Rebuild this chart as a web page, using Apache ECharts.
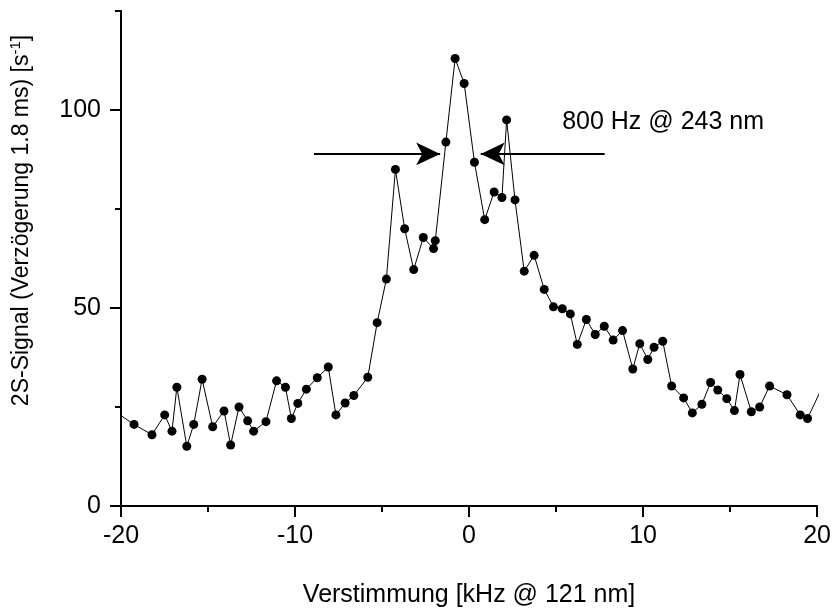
<!DOCTYPE html>
<html>
<head>
<meta charset="utf-8">
<script src="https://cdn.jsdelivr.net/npm/echarts@6/dist/echarts.min.js"></script>
<style>
  html, body { margin: 0; padding: 0; background: #fff; }
  #chart { width: 834px; height: 613px; }
</style>
</head>
<body>
<div id="chart"></div>
<script>
// Detuning (kHz @ 121 nm) of each scan point
const detuning = [
  -20.6, -19.25, -18.22, -17.49, -17.07, -16.79, -16.22, -15.82, -15.34, -14.73,
  -14.08, -13.70, -13.22, -12.72, -12.38, -11.67, -11.06, -10.55, -10.21, -9.84,
  -9.35, -8.72, -8.09, -7.65, -7.12, -6.62, -5.82, -5.28, -4.75, -4.23,
  -3.70, -3.18, -2.63, -2.04, -1.94, -1.33, -0.80, -0.28, 0.31, 0.90,
  1.44, 1.89, 2.16, 2.64, 3.17, 3.74, 4.32, 4.85, 5.36, 5.82,
  6.22, 6.74, 7.25, 7.77, 8.28, 8.82, 9.41, 9.81, 10.27, 10.63,
  11.13, 11.64, 12.33, 12.83, 13.38, 13.88, 14.29, 14.81, 15.25, 15.57,
  16.22, 16.70, 17.27, 18.27, 19.03, 19.45, 20.5
];
// 2S count rate (s^-1) at 1.8 ms delay
const signal = [
  24.6, 20.6, 18.0, 23.0, 18.9, 30.0, 15.1, 20.6, 32.0, 20.0,
  24.0, 15.4, 25.0, 21.5, 18.9, 21.3, 31.6, 30.0, 22.1, 25.9,
  29.5, 32.4, 35.1, 23.0, 26.0, 27.9, 32.5, 46.3, 57.3, 85.0,
  70.0, 59.7, 67.8, 65.0, 67.0, 91.9, 113.0, 106.7, 86.8, 72.3,
  79.3, 77.9, 97.5, 77.3, 59.3, 63.3, 54.7, 50.3, 49.8, 48.5,
  40.8, 47.1, 43.3, 45.4, 41.9, 44.3, 34.6, 41.0, 37.0, 40.1,
  41.6, 30.3, 27.3, 23.5, 25.7, 31.2, 29.3, 27.1, 24.1, 33.2,
  23.8, 25.0, 30.3, 28.1, 23.0, 22.1, 31.9
];

// Labelled (long) ticks on the signal axis; the rest are short
const yMajorTicks = [0, 50, 100];

// Linewidth arrows (tail, tip) and annotation
const arrowY = 88.9;
const leftArrow = [-8.91, -1.66];
const rightArrow = [7.79, 0.67];
const widthLabel = '800 Hz @ 243 nm';
const widthLabelPos = [5.35, 96.9];

const FONT = '"Liberation Sans", Arial, sans-serif';
const chart = echarts.init(document.getElementById('chart'));

const arrowLine = (from, to) => [
  { coord: [from, arrowY], symbol: 'none' },
  { coord: [to, arrowY], symbol: 'arrow' }
];

const blackTick = (len) => ({ show: true, length: len, lineStyle: { color: '#000', width: 2 } });

chart.setOption({
  animation: false,
  backgroundColor: '#fff',
  grid: { left: 121, right: 14, top: 11, bottom: 102 },
  xAxis: {
    type: 'value',
    min: -20, max: 20, interval: 10,
    name: 'Verstimmung [kHz @ 121 nm]',
    nameLocation: 'middle',
    nameGap: 77,
    nameTextStyle: { fontFamily: FONT, fontSize: 25, color: '#000' },
    axisLine: { show: true, onZero: false, lineStyle: { color: '#000', width: 2 } },
    axisTick: blackTick(11),
    minorTick: Object.assign(blackTick(6), { splitNumber: 2 }),
    axisLabel: { fontFamily: FONT, fontSize: 25, color: '#000', margin: 18 },
    splitLine: { show: false }
  },
  yAxis: [
    {
      type: 'value',
      min: 0, max: 125, interval: 25,
      position: 'left',
      name: '{t|2S-Signal (Verzögerung 1.8 ms) [s}{sup|-1}{t|]}',
      nameLocation: 'middle',
      nameGap: 85,
      nameRotate: 90,
      nameTextStyle: {
        fontFamily: FONT, fontSize: 23, color: '#000',
        padding: [0, 0, 0, 76],
        rich: {
          t: { fontFamily: FONT, fontSize: 23, color: '#000', lineHeight: 28 },
          sup: { fontFamily: FONT, fontSize: 15, color: '#000', verticalAlign: 'top', lineHeight: 28 }
        }
      },
      axisLine: { show: true, onZero: false, lineStyle: { color: '#000', width: 2 } },
      axisTick: blackTick(6),
      axisLabel: {
        fontFamily: FONT, fontSize: 25, color: '#000', margin: 20,
        formatter: (v) => (yMajorTicks.indexOf(v) >= 0 ? String(v) : '')
      },
      splitLine: { show: false }
    },
    {
      type: 'value',
      min: 0, max: 125, interval: 25,
      position: 'left',
      axisLine: { show: false, onZero: false },
      axisTick: Object.assign(blackTick(11), { customValues: yMajorTicks }),
      axisLabel: { show: false },
      splitLine: { show: false }
    }
  ],
  series: [
    {
      type: 'line',
      data: detuning.map((x, i) => [x, signal[i]]),
      clip: true,
      symbol: 'circle',
      symbolSize: 9,
      showAllSymbol: true,
      itemStyle: { color: '#000' },
      lineStyle: { color: '#000', width: 1 },
      markLine: {
        silent: true,
        symbolSize: [17, 24],
        lineStyle: { color: '#000', width: 2, type: 'solid' },
        label: { show: false },
        emphasis: { disabled: true },
        data: [arrowLine(leftArrow[0], leftArrow[1]), arrowLine(rightArrow[0], rightArrow[1])]
      },
      markPoint: {
        silent: true,
        symbol: 'circle',
        symbolSize: 0,
        label: {
          show: true, position: 'right', distance: 0,
          fontFamily: FONT, fontSize: 25, color: '#000',
          formatter: widthLabel
        },
        data: [{ coord: widthLabelPos }]
      }
    }
  ]
});
</script>
</body>
</html>
